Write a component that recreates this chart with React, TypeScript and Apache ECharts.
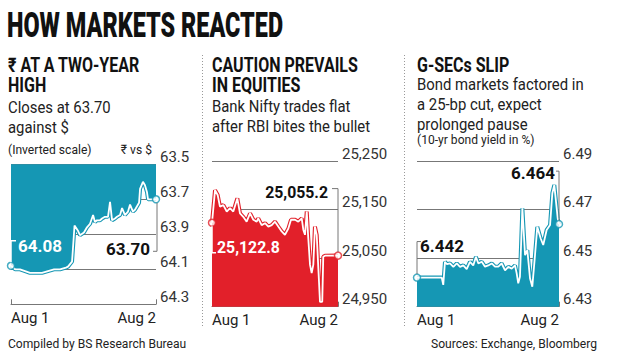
import React, { useEffect, useRef } from 'react';
import * as echarts from 'echarts';

const TEAL = '#1597b4';
const RED = '#e2202a';
const GRID = '#777';
const FONT = 'Roboto, "Noto Sans", sans-serif';

const xLabels = ['Aug 1', 'Aug 2'];

// Panel 1: rupee vs dollar (inverted scale)
const rupeeTicks = [63.5, 63.7, 63.9, 64.1, 64.3];
const rupeeTimes = [0, 2.8, 6.2, 9.7, 13.1, 17.2, 21.4, 25.5, 29.7, 33.8, 37.9, 39.3, 42.1, 43.4, 43.8, 46.2, 47.6, 50.3, 52.4, 54.5, 56.6, 57.9, 59.3, 61.4, 62.8, 64.8, 66.9, 68.3, 69.7, 71.7, 73.1, 75.2, 76.6, 78.6, 80.7, 82.1, 84.1, 85.5, 86.9, 88.3, 89.0, 91.0, 92.4, 93.8, 94.5, 100];
const rupeeValues = [64.08, 64.10, 64.10, 64.11, 64.12, 64.12, 64.12, 64.11, 64.10, 64.10, 64.09, 64.085, 64.056, 63.90, 63.85, 63.88, 63.905, 63.89, 63.86, 63.84, 63.79, 63.83, 63.82, 63.82, 63.81, 63.80, 63.80, 63.715, 63.82, 63.81, 63.80, 63.79, 63.75, 63.79, 63.77, 63.73, 63.77, 63.76, 63.74, 63.72, 63.64, 63.60, 63.62, 63.66, 63.70, 63.70];

// Panel 2: Bank Nifty
const niftyTicks = [24950, 25050, 25150, 25250];
const niftyTimes = [0, 2.4, 4.5, 6.3, 9.0, 11.7, 14.3, 16.9, 20.1, 22.2, 24.8, 27.5, 30.2, 32.8, 35.5, 36.7, 39.4, 42.1, 44.7, 47.4, 50.0, 52.6, 55.3, 57.9, 60.6, 62.7, 65.9, 68.5, 71.2, 72.5, 73.8, 75.2, 76.4, 77.8, 79.1, 80.4, 81.7, 83.1, 84.4, 85.7, 87.5, 88.3, 89.7, 100];
const niftyValues = [25122.8, 25190, 25180, 25156, 25159, 25146, 25153, 25146, 25173, 25142, 25135, 25125, 25142, 25129, 25125, 25132, 25118, 25122, 25115, 25118, 25125, 25115, 25105, 25098, 25111, 25129, 25129, 25125, 25132, 25108, 25098, 25146, 25091, 25036, 25019, 25036, 25115, 25098, 25029, 24960, 24960, 25053, 25055, 25055.2];

// Panel 3: 10-yr G-sec yield
const gsecTicks = [6.43, 6.45, 6.47, 6.49];
const gsecTimes = [0, 17.4, 18.5, 19.7, 21.1, 23.2, 25.6, 28.0, 30.3, 32.6, 35.0, 37.3, 39.6, 41.5, 43.2, 45.6, 47.9, 50.2, 52.6, 54.9, 57.3, 59.6, 62.0, 64.3, 66.7, 69.0, 70.2, 71.3, 72.5, 74.2, 76.1, 77.7, 79.6, 81.2, 83.1, 84.7, 87.1, 88.9, 91.3, 93.7, 95.3, 96.7, 97.9, 99.1, 100];
const gsecValues = [6.442, 6.442, 6.439, 6.4485, 6.4475, 6.4478, 6.4464, 6.4478, 6.4464, 6.447, 6.4455, 6.4485, 6.447, 6.4505, 6.4478, 6.4485, 6.4465, 6.447, 6.4478, 6.4465, 6.4465, 6.4478, 6.445, 6.4464, 6.4457, 6.447, 6.4437, 6.4396, 6.4423, 6.4705, 6.4512, 6.4533, 6.4416, 6.4382, 6.4512, 6.4629, 6.4581, 6.4554, 6.4616, 6.4636, 6.4767, 6.4801, 6.4732, 6.4664, 6.464];

const fmtNifty = (v: number) => v.toLocaleString('en-US', { minimumFractionDigits: 0, maximumFractionDigits: 1 });

const panels = [
  { times: rupeeTimes, values: rupeeValues, ticks: rupeeTicks, color: TEAL, inverse: true,
    grid: { left: 11, top: 164.3, width: 145, height: 140 },
    tickFmt: (v: number) => v.toFixed(1), valFmt: (v: number) => v.toFixed(2) },
  { times: niftyTimes, values: niftyValues, ticks: niftyTicks, color: RED, inverse: false,
    grid: { left: 212, top: 161, width: 126, height: 145.7 },
    tickFmt: (v: number) => Math.round(v).toLocaleString('en-US'),
    valFmt: (v: number) => v.toLocaleString('en-US', { minimumFractionDigits: 1, maximumFractionDigits: 1 }) },
  { times: gsecTimes, values: gsecValues, ticks: gsecTicks, color: TEAL, inverse: false,
    grid: { left: 417, top: 161, width: 142, height: 145.7 },
    tickFmt: (v: number) => v.toFixed(2), valFmt: (v: number) => v.toFixed(3) },
];

function txt(text: string, x: number, y: number, size: number, o: any = {}) {
  const align = o.align || 'left';
  return {
    type: 'text', x, y, scaleX: o.sx || 1, z: 100,
    style: {
      text, fill: o.color || '#1a1a1a', fontSize: size, fontWeight: o.weight || 'normal', fontFamily: FONT,
      align, textAlign: align, verticalAlign: 'middle', textVerticalAlign: 'middle',
    },
  };
}

function leader(points: number[][], color: string, w = 1) {
  return { type: 'polyline', z: 90, shape: { points }, style: { stroke: color, lineWidth: w, fill: null } };
}

export default function App() {
  const ref = useRef<HTMLDivElement>(null);
  useEffect(() => {
    if (!ref.current) return;
    const chart = echarts.init(ref.current, undefined, { renderer: 'svg' });
    const grids: any[] = [];
    const xAxes: any[] = [];
    const yAxes: any[] = [];
    const series: any[] = [];
    panels.forEach((p, i) => {
      const base = p.ticks[0];
      const span = p.ticks[p.ticks.length - 1] - base;
      const interval = p.ticks[1] - p.ticks[0];
      const data = p.times.map((t, k) => [t, +(p.values[k] - base).toFixed(5)]);
      grids.push({ ...p.grid, containLabel: false });
      xAxes.push({
        gridIndex: i, type: 'value', min: 0, max: 100, interval: 100,
        axisLine: { show: true, onZero: false, lineStyle: { color: GRID, width: 1 } },
        axisTick: { show: true, inside: true, length: 5, lineStyle: { color: GRID } },
        splitLine: { show: false },
        axisLabel: {
          margin: 6, fontSize: 15, color: '#222', fontFamily: FONT,
          formatter: (v: number) => (v === 0 ? xLabels[0] : xLabels[1]),
          alignMinLabel: 'left', alignMaxLabel: 'right',
        },
      });
      yAxes.push({
        gridIndex: i, type: 'value', position: 'right', min: 0, max: +span.toFixed(5), interval: +interval.toFixed(5),
        inverse: p.inverse,
        axisLine: { show: false },
        axisTick: { show: true, length: 3, lineStyle: { color: GRID } },
        splitLine: { show: true, lineStyle: { color: GRID, width: 1 } },
        axisLabel: {
          margin: 4, fontSize: 15, color: '#333', fontFamily: FONT, verticalAlign: 'bottom',
          formatter: (v: number) => p.tickFmt(v + base),
        },
      });
      series.push({
        type: 'line', xAxisIndex: i, yAxisIndex: i, data, showSymbol: false, clip: false, silent: true, z: 2,
        lineStyle: { color: p.color, width: 4 },
        areaStyle: { color: p.color, opacity: 1, origin: 'start' },
      });
      series.push({
        type: 'line', xAxisIndex: i, yAxisIndex: i, data, showSymbol: false, clip: false, silent: true, z: 3,
        lineStyle: { color: '#fff', width: 1.8 },
      });
      series.push({
        type: 'scatter', xAxisIndex: i, yAxisIndex: i, data: [data[0], data[data.length - 1]], clip: false,
        symbolSize: 7, silent: true, z: 4,
        itemStyle: { color: '#fff', borderColor: p.color, borderWidth: 1.5 },
      });
    });

    chart.setOption({ animation: false, backgroundColor: '#fff', grid: grids, xAxis: xAxes, yAxis: yAxes, series });

    const px = (i: number, k: number) => {
      const p = panels[i];
      const base = p.ticks[0];
      return chart.convertToPixel({ gridIndex: i }, [p.times[k], p.values[k] - base]) as number[];
    };
    const graphic: any[] = [];
    // Title and texts
    graphic.push(txt('HOW MARKETS REACTED', 7, 25, 36, { weight: 900, sx: 0.65, color: '#111' }));
    const H = { weight: 'bold', sx: 0.8, color: '#111' };
    const B = { sx: 0.93, color: '#222' };
    graphic.push(txt('₹ AT A TWO-YEAR', 8, 65, 20, H));
    graphic.push(txt('HIGH', 8, 84.5, 20, H));
    graphic.push(txt('Closes at 63.70', 8, 107.5, 16, B));
    graphic.push(txt('against $', 8, 127.5, 16, B));
    graphic.push(txt('(Inverted scale)', 8, 149, 13, B));
    graphic.push(txt('₹ vs $', 152, 149, 13, { ...B, align: 'right' }));
    graphic.push(txt('CAUTION PREVAILS', 212, 65, 20, H));
    graphic.push(txt('IN EQUITIES', 212, 84.5, 20, H));
    graphic.push(txt('Bank Nifty trades flat', 212, 106.5, 16, B));
    graphic.push(txt('after RBI bites the bullet', 212, 127, 16, B));
    graphic.push(txt('G-SECs SLIP', 417, 65, 20, H));
    graphic.push(txt('Bond markets factored in', 417, 85, 16, B));
    graphic.push(txt('a 25-bp cut, expect', 417, 105, 16, B));
    graphic.push(txt('prolonged pause', 417, 125, 16, B));
    graphic.push(txt('(10-yr bond yield in %)', 417, 139, 13, B));
    graphic.push(txt('Compiled by BS Research Bureau', 8, 343, 13, B));
    graphic.push(txt('Sources: Exchange, Bloomberg', 597, 343, 13, { ...B, align: 'right' }));
    // separators
    [202.5, 404.5].forEach((x) => {
      graphic.push({ type: 'line', z: 50, shape: { x1: x, y1: 55, x2: x, y2: 326 },
        style: { stroke: '#999', lineWidth: 1, lineDash: [1, 2] } });
    });

    const L = { weight: 'bold', color: '#111' };
    // Panel 1 annotations
    {
      const p = panels[0];
      const a = px(0, 0), b = px(0, p.values.length - 1);
      graphic.push(leader([[a[0], a[1] - 3.5], [a[0], a[1] - 25], [a[0] + 5, a[1] - 25]], '#fff', 1.5));
      graphic.push(txt(p.valFmt(p.values[0]), a[0] + 7, a[1] - 20, 17, { ...L, color: '#fff' }));
      graphic.push(leader([[b[0] + 1, b[1] + 3.5], [b[0] + 1, b[1] + 52], [b[0] - 3, b[1] + 52]], GRID));
      graphic.push(txt(p.valFmt(p.values[p.values.length - 1]), b[0] - 6, b[1] + 50, 17, { ...L, align: 'right' }));
    }
    // Panel 2 annotations
    {
      const p = panels[1];
      const a = px(1, 0), b = px(1, p.values.length - 1);
      graphic.push(leader([[a[0], a[1] + 3.5], [a[0], a[1] + 30], [a[0] + 4, a[1] + 30]], '#fff', 1.5));
      graphic.push(txt(p.valFmt(p.values[0]), a[0] + 5, a[1] + 25, 17, { ...L, color: '#fff', sx: 0.93 }));
      graphic.push(leader([[b[0], b[1] - 3.5], [b[0], b[1] - 67], [b[0] - 6, b[1] - 67]], GRID));
      graphic.push(txt(p.valFmt(p.values[p.values.length - 1]), b[0] - 10, b[1] - 63, 17, { ...L, align: 'right', sx: 0.93 }));
    }
    // Panel 3 annotations
    {
      const p = panels[2];
      const a = px(2, 0), b = px(2, p.values.length - 1);
      graphic.push(leader([[a[0], a[1] - 3.5], [a[0], a[1] - 36], [a[0] + 4, a[1] - 36]], GRID));
      graphic.push(txt(p.valFmt(p.values[0]), a[0] + 3, a[1] - 32, 17, L));
      graphic.push(leader([[b[0], b[1] - 3.5], [b[0], b[1] - 53], [b[0] - 3, b[1] - 53]], GRID));
      graphic.push(txt(p.valFmt(p.values[p.values.length - 1]), b[0] - 4, b[1] - 51, 17, { ...L, align: 'right' }));
    }
    chart.setOption({ graphic });

    return () => chart.dispose();
  }, []);
  return <div ref={ref} style={{ position: 'fixed', left: 0, top: 0, width: 620, height: 362, background: '#fff' }} />;
}
